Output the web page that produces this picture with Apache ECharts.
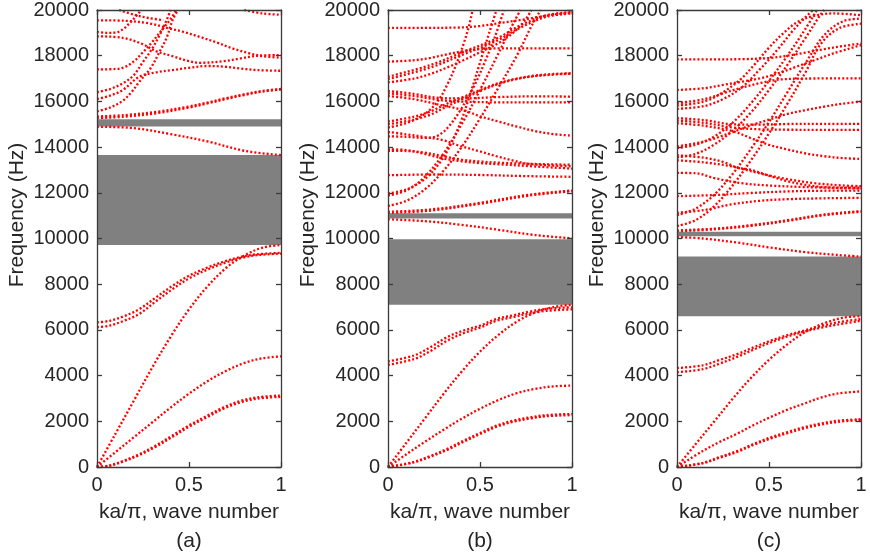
<!DOCTYPE html>
<html>
<head>
<meta charset="utf-8">
<script src="https://cdn.jsdelivr.net/npm/echarts@6/dist/echarts.min.js"></script>
<style>
html, body { margin: 0; background: #fff; }
#chart { width: 870px; height: 560px; }
</style>
</head>
<body>
<div id="chart"></div>
<script>
// band gaps [from, to] in Hz
var gapsA = [[9720, 13650], [14900, 15220]];
var gapsB = [[7100, 9965], [10880, 11100]];
var gapsC = [[6600, 9210], [10100, 10300]];

// ---- panel (a) dispersion curves: [ka/pi, Hz]
var a_low1 = [[0,0],[0.07,60],[0.14,230],[0.23,520],[0.32,890],[0.41,1320],[0.5,1760],[0.6,2190],[0.69,2560],[0.78,2830],[0.87,2990],[1,3070]];
var a_low2 = [[0,0],[0.07,70],[0.14,260],[0.23,560],[0.32,940],[0.41,1380],[0.5,1820],[0.6,2250],[0.69,2620],[0.78,2890],[0.87,3050],[1,3130]];
var a_mid = [[0,0],[0.1,650],[0.2,1300],[0.3,1950],[0.4,2600],[0.5,3210],[0.6,3750],[0.7,4200],[0.8,4550],[0.9,4760],[1,4840]];
var a_steep = [[0,0],[0.1,1450],[0.2,2900],[0.3,4350],[0.4,5700],[0.5,6900],[0.6,7900],[0.7,8700],[0.8,9250],[0.9,9600],[1,9717]];
var a_opt1 = [[0,6330],[0.07,6400],[0.14,6580],[0.23,6910],[0.32,7420],[0.41,7930],[0.5,8370],[0.6,8730],[0.69,8990],[0.78,9190],[0.87,9310],[1,9370]];
var a_opt2 = [[0,6120],[0.07,6190],[0.14,6380],[0.23,6700],[0.32,7250],[0.41,7780],[0.5,8250],[0.6,8640],[0.69,8920],[0.78,9140],[0.87,9270],[1,9340]];
var a_below = [[0,14890],[0.2,14830],[0.4,14570],[0.6,14250],[0.8,13840],[1,13650]];
var a_rise1 = [[0,15340],[0.15,15400],[0.33,15550],[0.5,15780],[0.6,15950],[0.7,16140],[0.8,16310],[0.9,16460],[1,16545]];
var a_rise2 = [[0,15270],[0.15,15330],[0.33,15490],[0.5,15730],[0.6,15910],[0.7,16100],[0.8,16280],[0.9,16430],[1,16520]];
var a_st1 = [[0,15560],[0.07,15730],[0.14,16030],[0.19,16430],[0.23,16860],[0.29,17440],[0.34,18170],[0.38,18820],[0.41,19550],[0.44,20000]];
var a_st2 = [[0,16400],[0.07,16540],[0.14,16790],[0.2,17150],[0.25,17730],[0.3,18310],[0.34,18900],[0.37,19400],[0.4,20000]];
var a_st3 = [[0,17400],[0.1,17420],[0.15,17500],[0.2,17750],[0.25,18150],[0.3,18600],[0.35,19100],[0.4,19600],[0.43,20000]];
var a_st4 = [[0,19040],[0.05,19000],[0.1,19010],[0.14,19150],[0.18,19450],[0.22,19800],[0.24,20000]];
var a_flat1 = [[0,16110],[0.07,16250],[0.14,16500],[0.23,17080],[0.32,17270],[0.41,17370],[0.5,17470],[0.6,17550],[0.69,17520],[0.78,17440],[0.87,17370],[1,17340]];
var a_dip = [[0,18850],[0.14,18780],[0.25,18500],[0.32,18200],[0.41,17980],[0.5,17760],[0.56,17690],[0.69,17760],[0.78,17880],[0.87,17995],[1,18030]];
var a_fall = [[0,19550],[0.15,19530],[0.28,19420],[0.38,19220],[0.47,19040],[0.56,18820],[0.65,18580],[0.74,18310],[0.83,18100],[0.9,17980],[1,17910]];
var a_top1 = [[0.12,20000],[0.2,19800],[0.28,19650],[0.36,19560]];
var a_top2 = [[0.8,20000],[0.9,19850],[1,19790]];

// ---- panel (b)
var b_low1 = [[0,0],[0.14,200],[0.23,450],[0.32,740],[0.41,1100],[0.5,1440],[0.59,1760],[0.68,1980],[0.77,2120],[0.86,2220],[1,2270]];
var b_low2 = [[0,0],[0.14,220],[0.23,480],[0.32,790],[0.41,1150],[0.5,1490],[0.59,1810],[0.68,2030],[0.77,2170],[0.86,2270],[1,2320]];
var b_mid = [[0,0],[0.1,560],[0.2,1100],[0.3,1620],[0.4,2110],[0.5,2550],[0.6,2930],[0.7,3230],[0.8,3420],[0.9,3530],[1,3560]];
var b_steep = [[0,0],[0.1,1060],[0.2,2120],[0.3,3180],[0.4,4170],[0.5,5050],[0.6,5780],[0.7,6360],[0.8,6760],[0.9,7000],[1,7100]];
var b_opt1 = [[0,4620],[0.14,4880],[0.23,5240],[0.32,5680],[0.41,5970],[0.5,6190],[0.59,6480],[0.68,6640],[0.77,6800],[0.86,6920],[1,6990]];
var b_opt2 = [[0,4470],[0.14,4720],[0.23,5070],[0.32,5520],[0.41,5850],[0.5,6100],[0.59,6400],[0.68,6560],[0.77,6720],[0.86,6830],[1,6900]];
var b_below = [[0,10840],[0.2,10760],[0.4,10600],[0.6,10380],[0.8,10150],[1,10010]];
var b_rise1 = [[0,11170],[0.23,11270],[0.5,11560],[0.77,11920],[1,12100]];
var b_rise2 = [[0,11120],[0.23,11220],[0.5,11520],[0.77,11880],[1,12070]];
var b_st1 = [[0,14860],[0.1,15050],[0.2,15450],[0.27,16000],[0.32,16700],[0.37,17600],[0.41,18500],[0.44,19300],[0.46,20000]];
var b_st2 = [[0,14470],[0.1,14450],[0.2,14400],[0.27,14500],[0.33,14900],[0.4,15700],[0.47,16700],[0.53,17800],[0.58,18800],[0.63,20000]];
var b_st3 = [[0,11970],[0.1,12150],[0.2,12600],[0.28,13300],[0.34,14100],[0.4,15200],[0.45,16400],[0.5,17700],[0.55,19000],[0.59,20000]];
var b_st4 = [[0,11880],[0.1,12100],[0.2,12700],[0.3,13700],[0.4,15000],[0.5,16500],[0.6,18100],[0.68,19400],[0.72,20000]];
var b_st5 = [[0,11420],[0.1,11650],[0.2,12150],[0.3,12950],[0.4,14000],[0.5,15250],[0.6,16600],[0.7,18000],[0.78,19300],[0.83,20000]];
var b_flat1 = [[0,12770],[0.25,12800],[0.5,12780],[0.75,12730],[1,12700]];
var b_flat2 = [[0,13900],[0.1,13870],[0.2,13700],[0.3,13500],[0.4,13380],[0.5,13300],[0.6,13250],[0.8,13150],[1,13060]];
var b_flat3 = [[0,13840],[0.1,13830],[0.2,13760],[0.3,13600],[0.4,13450],[0.5,13370],[0.6,13320],[0.8,13260],[1,13230]];
var b_fall1 = [[0,14660],[0.1,14560],[0.2,14440],[0.3,14300],[0.38,14080],[0.5,13810],[0.59,13600],[0.68,13410],[0.77,13260],[1,13160]];
var b_fall2 = [[0,16240],[0.14,16100],[0.28,15850],[0.41,15620],[0.5,15350],[0.6,15120],[0.7,14900],[0.8,14700],[0.9,14570],[1,14500]];
var b_lev1 = [[0,16460],[0.14,16330],[0.28,16150],[0.4,16130],[0.6,16190],[0.8,16220],[1,16210]];
var b_lev2 = [[0,16360],[0.14,16240],[0.28,16060],[0.4,15990],[0.6,15960],[0.8,15960],[1,15960]];
var b_up1 = [[0,15120],[0.14,15330],[0.23,15560],[0.32,15900],[0.41,16200],[0.5,16500],[0.6,16800],[0.7,17000],[0.8,17130],[0.9,17200],[1,17230]];
var b_up2 = [[0,15000],[0.14,15200],[0.23,15420],[0.32,15780],[0.41,16120],[0.5,16450],[0.6,16760],[0.7,16980],[0.8,17110],[1,17220]];
var b_diag1 = [[0,17080],[0.23,17590],[0.41,18170],[0.59,18750],[0.72,19330],[0.86,19770],[1,19910]];
var b_diag2 = [[0,16980],[0.23,17480],[0.41,18060],[0.59,18650],[0.72,19230],[0.86,19700],[1,19850]];
var b_diag3 = [[0,16830],[0.14,17000],[0.23,17200],[0.32,17480],[0.41,17800],[0.5,18150],[0.6,18550],[0.68,19000],[0.74,19500],[0.78,20000]];
var b_hi1 = [[0,17740],[0.14,17800],[0.23,17900],[0.32,18060],[0.41,18200],[0.5,18290],[0.6,18320],[0.8,18320],[1,18320]];
var b_hi2 = [[0,19220],[0.2,19220],[0.37,19230],[0.5,19300],[0.6,19420],[0.75,19600],[0.9,19800],[1,19880]];

// ---- panel (c)
var c_low1 = [[0,0],[0.14,160],[0.23,400],[0.33,670],[0.42,980],[0.51,1250],[0.6,1480],[0.69,1690],[0.78,1850],[0.87,1975],[1,2050]];
var c_low2 = [[0,0],[0.14,180],[0.23,430],[0.33,710],[0.42,1020],[0.51,1300],[0.6,1530],[0.69,1740],[0.78,1900],[0.87,2020],[1,2090]];
var c_mid = [[0,0],[0.14,700],[0.23,1090],[0.33,1470],[0.42,1850],[0.51,2190],[0.6,2510],[0.69,2770],[0.78,3030],[0.87,3210],[1,3310]];
var c_steep = [[0,0],[0.1,990],[0.2,1970],[0.3,2960],[0.4,3880],[0.5,4690],[0.6,5370],[0.7,5920],[0.8,6290],[0.9,6530],[1,6600]];
var c_opt1 = [[0,4330],[0.14,4450],[0.23,4680],[0.33,4950],[0.42,5250],[0.51,5530],[0.6,5770],[0.69,5970],[0.78,6160],[0.87,6330],[1,6470]];
var c_opt2 = [[0,4150],[0.14,4280],[0.23,4520],[0.33,4830],[0.42,5150],[0.51,5450],[0.6,5710],[0.69,5920],[0.78,6090],[0.87,6230],[1,6400]];
var c_below = [[0,10065],[0.14,10000],[0.33,9820],[0.51,9600],[0.69,9410],[0.87,9280],[1,9210]];
var c_rise1 = [[0,10356],[0.2,10430],[0.4,10580],[0.6,10800],[0.8,11050],[1,11200]];
var c_rise2 = [[0,10320],[0.2,10400],[0.4,10550],[0.6,10770],[0.8,11020],[1,11170]];
var c_lev1 = [[0,11126],[0.15,11250],[0.3,11500],[0.45,11650],[0.6,11720],[0.8,11760],[1,11780]];
var c_lev2 = [[0,11852],[0.2,11900],[0.4,11990],[0.6,12060],[0.8,12090],[1,12100]];
var c_lev3 = [[0,12870],[0.1,12860],[0.2,12650],[0.35,12420],[0.5,12320],[0.7,12250],[1,12190]];
var c_bump = [[0,13640],[0.15,13530],[0.25,13350],[0.33,13100],[0.4,13010],[0.51,12720],[0.6,12510],[0.69,12360],[0.78,12260],[0.87,12230],[1,12220]];
var c_fall1 = [[0,13420],[0.15,13330],[0.3,13150],[0.45,12850],[0.6,12600],[0.75,12420],[0.9,12320],[1,12290]];
var c_st1 = [[0,15817],[0.15,16000],[0.25,16400],[0.35,17000],[0.42,17600],[0.5,18350],[0.58,19000],[0.66,19500],[0.75,19750],[0.85,19850],[1,19770]];
var c_st2 = [[0,15672],[0.15,15800],[0.25,16100],[0.35,16600],[0.45,17400],[0.55,18300],[0.63,19100],[0.7,19700],[0.74,20000]];
var c_st3 = [[0,13552],[0.1,13700],[0.2,14100],[0.3,14700],[0.4,15500],[0.5,16500],[0.6,17600],[0.7,18800],[0.78,19800],[0.8,20000]];
var c_st4 = [[0,11025],[0.1,11300],[0.2,11900],[0.3,12800],[0.4,13900],[0.5,15100],[0.6,16400],[0.7,17700],[0.8,18900],[0.9,19500],[1,19620]];
var c_st5 = [[0,10545],[0.1,10800],[0.2,11400],[0.3,12300],[0.4,13400],[0.5,14600],[0.6,15900],[0.7,17300],[0.78,18500],[0.88,19200],[1,19400]];
var c_st6 = [[0,13958],[0.1,14100],[0.2,14450],[0.3,15050],[0.4,15900],[0.5,16900],[0.6,18000],[0.7,19200],[0.76,20000]];
var c_up1 = [[0,14031],[0.15,14250],[0.3,14650],[0.4,14950],[0.5,15200],[0.6,15450],[0.7,15620],[0.8,15770],[0.9,15900],[1,15990]];
var c_lev4 = [[0,15266],[0.15,15180],[0.3,15000],[0.45,14980],[0.6,15010],[0.8,15020],[1,15019]];
var c_lev5 = [[0,15164],[0.15,15060],[0.3,14860],[0.45,14780],[0.6,14760],[0.8,14757],[1,14757]];
var c_fall2 = [[0,15048],[0.15,14930],[0.3,14700],[0.4,14400],[0.5,14100],[0.6,13900],[0.7,13720],[0.8,13600],[0.9,13520],[1,13479]];
var c_up2 = [[0,15919],[0.15,16100],[0.25,16350],[0.35,16600],[0.45,16800],[0.55,16950],[0.7,17000],[1,17008]];
var c_diag = [[0,16500],[0.15,16580],[0.25,16720],[0.35,16860],[0.45,17010],[0.55,17230],[0.65,17520],[0.75,17810],[0.85,18100],[1,18460]];
var c_hi = [[0,17836],[0.2,17840],[0.36,17850],[0.5,17900],[0.6,18000],[0.7,18140],[0.8,18290],[0.9,18420],[1,18533]];

var curvesA = [a_low1, a_low2, a_mid, a_steep, a_opt1, a_opt2, a_below, a_rise1, a_rise2,
               a_st1, a_st2, a_st3, a_st4, a_flat1, a_dip, a_fall, a_top1, a_top2];
var curvesB = [b_low1, b_low2, b_mid, b_steep, b_opt1, b_opt2, b_below, b_rise1, b_rise2,
               b_st1, b_st2, b_st3, b_st4, b_st5, b_flat1, b_flat2, b_flat3, b_fall1, b_fall2,
               b_lev1, b_lev2, b_up1, b_up2, b_diag1, b_diag2, b_diag3, b_hi1, b_hi2];
var curvesC = [c_low1, c_low2, c_mid, c_steep, c_opt1, c_opt2, c_below, c_rise1, c_rise2,
               c_lev1, c_lev2, c_lev3, c_bump, c_fall1, c_st1, c_st2, c_st3, c_st4, c_st5, c_st6,
               c_up1, c_lev4, c_lev5, c_fall2, c_up2, c_diag, c_hi];

var panelNames = ['(a)', '(b)', '(c)'];
var xName = 'ka/\u03c0, wave number';
var yName = 'Frequency (Hz)';

var FONT = '"Liberation Sans", Arial, sans-serif';
var INK = '#262626';
var AXIS = '#3a3a3a';

var panels = [
    {curves: curvesA, gaps: gapsA, left: 97},
    {curves: curvesB, gaps: gapsB, left: 388},
    {curves: curvesC, gaps: gapsC, left: 677}
];

var chart = echarts.init(document.getElementById('chart'), null, {renderer: 'canvas'});
var option = {animation: false, grid: [], xAxis: [], yAxis: [], series: [], graphic: []};

function plain(v) {
    return String(v);
}
function xAxisFor(i, pos, labels) {
    return {
        type: 'value', gridIndex: i, position: pos, min: 0, max: 1, interval: 0.5, z: 5,
        axisLine: {show: true, onZero: false, lineStyle: {color: AXIS, width: 1.3}},
        axisTick: {show: true, inside: true, length: 5, lineStyle: {color: AXIS, width: 1.3}},
        axisLabel: {show: labels, fontSize: 20, color: INK, fontFamily: FONT, margin: 8, formatter: plain},
        splitLine: {show: false}
    };
}
function yAxisFor(i, pos, labels) {
    return {
        type: 'value', gridIndex: i, position: pos, min: 0, max: 20000, interval: 2000, z: 5,
        axisLine: {show: true, onZero: false, lineStyle: {color: AXIS, width: 1.3}},
        axisTick: {show: true, inside: true, length: 5, lineStyle: {color: AXIS, width: 1.3}},
        axisLabel: {show: labels, fontSize: 20, color: INK, fontFamily: FONT, margin: 8, formatter: plain},
        splitLine: {show: false}
    };
}

panels.forEach(function(p, i) {
    option.grid.push({left: p.left, top: 8, width: 184, height: 459});
    option.xAxis.push(xAxisFor(i, 'bottom', true));
    option.xAxis.push(xAxisFor(i, 'top', false));
    option.yAxis.push(yAxisFor(i, 'left', true));
    option.yAxis.push(yAxisFor(i, 'right', false));

    // gray band gaps
    option.series.push({
        type: 'line', xAxisIndex: 2 * i, yAxisIndex: 2 * i, data: [], z: 1, silent: true,
        markArea: {
            silent: true,
            itemStyle: {color: '#808080', opacity: 1},
            data: p.gaps.map(function(g) {
                return [{xAxis: 0, yAxis: g[0]}, {xAxis: 1, yAxis: g[1]}];
            })
        }
    });
    // dotted red dispersion curves
    p.curves.forEach(function(c) {
        option.series.push({
            type: 'line', xAxisIndex: 2 * i, yAxisIndex: 2 * i, data: c, z: 3,
            smooth: 0.35, showSymbol: false, symbol: 'none',
            silent: true, clip: true,
            lineStyle: {color: '#ff0000', width: 2.3, type: [2, 2.1]}
        });
    });

    var cx = p.left + 92;
    option.graphic.push({
        type: 'text', x: p.left - 80, y: 215, rotation: Math.PI / 2,
        style: {text: yName, font: '21px ' + FONT, fill: INK, textAlign: 'center', textVerticalAlign: 'middle', align: 'center', verticalAlign: 'middle'}
    });
    option.graphic.push({
        type: 'text', x: cx, y: 512,
        style: {text: xName, font: '21px ' + FONT, fill: INK, textAlign: 'center', textVerticalAlign: 'middle', align: 'center', verticalAlign: 'middle'}
    });
    option.graphic.push({
        type: 'text', x: cx, y: 541,
        style: {text: panelNames[i], font: '21px ' + FONT, fill: INK, textAlign: 'center', textVerticalAlign: 'middle', align: 'center', verticalAlign: 'middle'}
    });
});

chart.setOption(option);
</script>
</body>
</html>
